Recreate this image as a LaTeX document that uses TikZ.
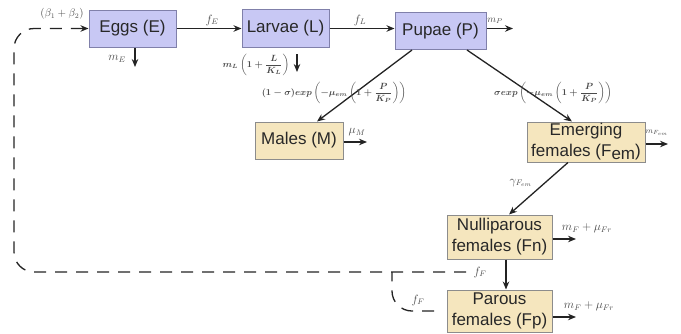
\documentclass[tikz,border=0pt]{standalone}
\usepackage{amsmath}
\usepackage{fontspec}
\setmainfont{Liberation Sans}
\usetikzlibrary{arrows.meta}

\definecolor{lav}{RGB}{200,200,244}
\definecolor{lavline}{RGB}{128,128,170}
\definecolor{tanfill}{RGB}{245,230,190}
\definecolor{tanline}{RGB}{140,140,140}
\definecolor{boxtext}{RGB}{40,40,40}
\definecolor{flowc}{RGB}{35,35,35}
\definecolor{labc}{RGB}{75,75,75}

\begin{document}
\begin{tikzpicture}[x=1pt,y=-1pt,
  box/.style={draw, line width=1pt, text=boxtext, align=center, inner sep=0pt,
              font=\fontsize{17}{21}\selectfont},
  stagebox/.style={box, fill=lav, draw=lavline},
  adultbox/.style={box, fill=tanfill, draw=tanline},
  flow/.style={-{Stealth[length=8pt,width=6.5pt]}, line width=1.3pt, draw=flowc},
  feed/.style={flow, dash pattern=on 12pt off 9pt, rounded corners=20pt},
  feedbranch/.style={line width=1.3pt, draw=flowc, dash pattern=on 12pt off 9pt, rounded corners=20pt},
  lab/.style={font=\fontsize{12}{14}\selectfont, text=labc, inner sep=1pt},
  blab/.style={font=\fontsize{9}{11}\selectfont\boldmath, text=labc, inner sep=1pt}]

\useasboundingbox (0,0) rectangle (681,333);

% life stages
\node[stagebox, minimum width=87pt, minimum height=37pt] (E) at (132.5,28.5) {Eggs (E)};
\node[stagebox, minimum width=87pt, minimum height=38pt] (L) at (285.5,28.5) {Larvae (L)};
\node[stagebox, minimum width=91pt, minimum height=37pt] (P) at (440.5,31) {Pupae (P)};
\node[adultbox, minimum width=88pt, minimum height=37pt] (M) at (299,140.5) {Males (M)};
\node[adultbox, minimum width=118pt, minimum height=40pt] (Fem) at (586,142)
  {Emerging\\females (F\raisebox{-3pt}{em})};
\node[adultbox, minimum width=105pt, minimum height=44pt] (Fn) at (499.5,237) {Nulliparous\\females (Fn)};
\node[adultbox, minimum width=105pt, minimum height=42pt] (Fp) at (499.5,311) {Parous\\females (Fp)};

% free ends of the mortality arrows
\coordinate (mPend) at (513,28.5);
\coordinate (mEtop) at (135,48);
\coordinate (mEend) at (135,67);
\coordinate (mLtop) at (297,54);
\coordinate (mLend) at (297,72);
\coordinate (mMend) at (367,142);
\coordinate (mFemend) at (668,144);
\coordinate (mFnend) at (576,239);
\coordinate (mFpend) at (576,317);

% development flows
\draw[flow] (E.east) -- (L.west);
\draw[flow] (L.east) -- (L.east -| P.west);
\draw[flow] ([xshift=-28.5pt]P.south) -- ([xshift=18pt]M.north);
\draw[flow] ([xshift=26.5pt]P.south) -- ([xshift=-14pt]Fem.north);
\draw[flow] ([xshift=-18pt]Fem.south) -- ([xshift=9.5pt]Fn.north);
\draw[flow] ([xshift=6.5pt]Fn.south) -- ([xshift=6.5pt]Fp.north);

% mortality
\draw[flow] (P.east |- mPend) -- (mPend);
\draw[flow] (mEtop) -- (mEend);
\draw[flow] (mLtop) -- (mLend);
\draw[flow] (M.east |- mMend) -- (mMend);
\draw[flow] (Fem.east |- mFemend) -- (mFemend);
\draw[flow] (Fn.east |- mFnend) -- (mFnend);
\draw[flow] (Fp.east |- mFpend) -- (mFpend);

% egg laying feedback
\coordinate (fstart) at (466,272);
\coordinate (loop) at (14,272);
\coordinate (fjoin) at (392,272);
\coordinate (fpar) at (434,311);
\draw[feed] (fstart) -- (loop) |- (E.west);
\draw[feedbranch] (fpar) -| (fjoin);

% rates
\node[lab, font=\fontsize{10.5}{12}\selectfont] (lbeta) at (62,14) {$(\beta_1+\beta_2)$};
\node[lab] (lfE) at (212,20) {$f_E$};
\node[lab] (lfL) at (360,20) {$f_L$};
\node[lab, font=\fontsize{10}{12}\selectfont] (lmP) at (495,21) {$m_P$};
\node[lab] (lmE) at (117,59) {$m_E$};
\node[blab] (lmL) at (256,65) {$m_L\left(1+\dfrac{L}{K_L}\right)$};
\node[blab] (lmale) at (334,93) {$(1-\sigma)exp\left(-\mu_{em}\left(1+\dfrac{P}{K_P}\right)\right)$};
\node[blab] (lfem) at (553,93) {$\sigma exp\left(-\mu_{em}\left(1+\dfrac{P}{K_P}\right)\right)$};
\node[lab] (lmuM) at (357,132) {$\mu_M$};
\node[lab, font=\fontsize{8.5}{10}\selectfont] (lmFem) at (657,133) {$m_{F_{em}}$};
\node[lab] (lgam) at (521,183) {$\gamma_{F_{em}}$};
\node[lab] (lmFn) at (587,228) {$m_F+\mu_{Fr}$};
\node[lab] (lmFp) at (589,306) {$m_F+\mu_{Fr}$};
\node[lab] (lfF1) at (480,272) {$f_F$};
\node[lab] (lfF2) at (418,300) {$f_F$};

\end{tikzpicture}
\end{document}
